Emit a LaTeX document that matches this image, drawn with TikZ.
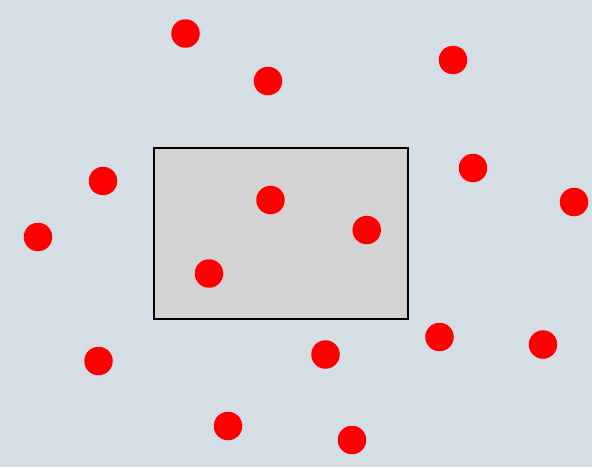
\documentclass[tikz,border=0pt]{standalone}
\definecolor{bgcol}{HTML}{D5DEE5}
\definecolor{boxcol}{HTML}{D3D3D3}
\tikzset{
  dot/.style={circle, fill=red, draw=none, inner sep=0pt, minimum size=28.5pt},
  boxstyle/.style={draw=black, line width=2.8pt, fill=boxcol}
}
\begin{document}
\begin{tikzpicture}[x=1pt,y=-1pt]
\fill[bgcol] (0,0) rectangle (592,467);
\useasboundingbox (0,0) rectangle (592,467);
\node[boxstyle, inner sep=0pt, minimum width=254pt, minimum height=171pt, anchor=north west] (box) at (152.5,146.5) {};
\node[dot] (d1) at (185.5,33.5) {};
\node[dot] (d2) at (268,81) {};
\node[dot] (d3) at (453,60) {};
\node[dot] (d4) at (103,181) {};
\node[dot] (d5) at (473,168) {};
\node[dot] (d6) at (574,202) {};
\node[dot] (d7) at (38,237) {};
\node[dot] (d8) at (270.5,200) {};
\node[dot] (d9) at (366.7,230) {};
\node[dot] (d10) at (209,273.5) {};
\node[dot] (d11) at (98.5,361) {};
\node[dot] (d12) at (325.5,354.5) {};
\node[dot] (d13) at (439.5,337) {};
\node[dot] (d14) at (543,344.5) {};
\node[dot] (d15) at (228,426) {};
\node[dot] (d16) at (352,440) {};
\end{tikzpicture}
\end{document}
